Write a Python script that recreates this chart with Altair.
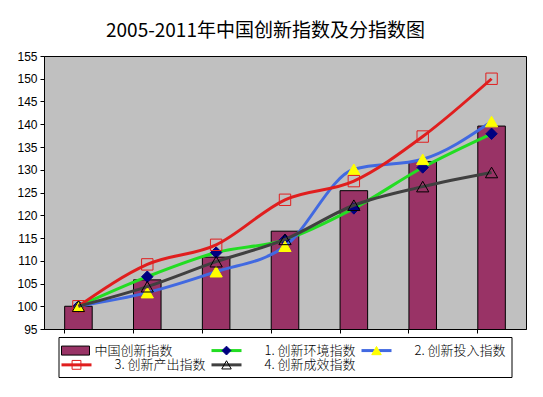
import altair as alt
import pandas as pd

# ---------------- data ----------------
title_text = "2005-2011年中国创新指数及分指数图"
years = ["2005", "2006", "2007", "2008", "2009", "2010", "2011"]
china_index = [100.0, 105.8, 110.8, 116.5, 125.4, 131.8, 139.6]
env_index = [100.0, 106.5, 111.8, 114.6, 121.5, 130.5, 137.9]
input_index = [100.0, 103.0, 107.6, 113.2, 130.1, 132.3, 140.6]
output_index = [100.0, 109.2, 113.5, 123.4, 127.5, 137.3, 150.0]
effect_index = [100.0, 104.3, 109.8, 114.7, 122.2, 126.3, 129.4]

bar_name = "中国创新指数"
line_names = ["1. 创新环境指数", "2. 创新投入指数", "3. 创新产出指数", "4. 创新成效指数"]
line_values = [env_index, input_index, output_index, effect_index]
y_ticks = [95, 100, 105, 110, 115, 120, 125, 130, 135, 140, 145, 150, 155]

# legend grid (column / row of each entry)
legend_labels = [bar_name] + line_names
legend_cols = [0, 1, 2, 0, 1]
legend_rows = [0, 0, 0, 1, 1]

# ---------------- styles ----------------
bar_color = "#993366"
line_colors = ["#22DD22", "#4169E1", "#E01E1E", "#404040"]
marker_shapes = ["diamond", "triangle-up", "square", "triangle-up"]
marker_fills = ["#000080", "#FFFF00", "transparent", "transparent"]
marker_strokes = ["#000080", "#FFFF00", "#E01E1E", "#000000"]
marker_sizes = [130, 150, 130, 150]
FONT_CJK = "Noto Sans CJK SC"

bar_df = pd.DataFrame({"year": years, "value": china_index})

x_axis = alt.Axis(labels=False, title=None, bandPosition=0, tickSize=4,
                  domainColor="black", tickColor="black")
x_enc = alt.X("year:N", sort=years,
              scale=alt.Scale(paddingInner=0.6, paddingOuter=0.3), axis=x_axis)
y_scale = alt.Scale(domain=[95, 155], nice=False, zero=False)
y_axis = alt.Axis(values=y_ticks, title=None, grid=False, tickSize=4,
                  labelFontSize=12, labelFont="Liberation Sans",
                  labelColor="black", domainColor="black", tickColor="black",
                  labelPadding=3, labelOverlap=False, labelFlush=False)
y_enc = alt.Y("value:Q", scale=y_scale, axis=y_axis)

bars = alt.Chart(bar_df).mark_bar(
    color=bar_color, stroke="black", strokeWidth=1, clip=True
).encode(x=x_enc, y=y_enc)

layers = [bars]
for i, name in enumerate(line_names):
    df = pd.DataFrame({"year": years, "value": line_values[i]})
    base = alt.Chart(df).encode(x=x_enc, y=y_enc)
    line = base.mark_line(color=line_colors[i], strokeWidth=3,
                          interpolate="monotone")
    pts = base.mark_point(shape=marker_shapes[i], size=marker_sizes[i],
                          filled=True, fill=marker_fills[i],
                          stroke=marker_strokes[i], strokeWidth=1, opacity=1)
    layers += [line, pts]

main = alt.layer(*layers).properties(
    width=482, height=273,
    view=alt.ViewBackground(fill="#C0C0C0", stroke="black", strokeWidth=1),
)

# ---------------- legend panel ----------------
SYM_LINE = 0.2      # line symbol length in column units
SYM_BAR = 28 / 150  # bar symbol length
TXT_BAR = 0.22
TXT_LINE = 0.353

leg = pd.DataFrame({
    "label": legend_labels,
    "col": legend_cols,
    "row": legend_rows,
    "kind": ["bar"] + ["line"] * 4,
})
leg["x0"] = leg["col"]
leg["x1"] = leg["col"] + SYM_LINE
leg["xb"] = leg["col"] + SYM_BAR
leg["xm"] = leg["col"] + SYM_LINE / 2
leg["tx"] = leg["col"] + pd.Series([TXT_BAR] + [TXT_LINE] * 4)

lx = alt.Scale(domain=[-0.02, 3.0])
ly = alt.Scale(domain=[-0.6, 1.5], reverse=True)

leg_layers = []
bar_leg = alt.Chart(leg.iloc[[0]]).mark_bar(
    size=9, color=bar_color, stroke="black", strokeWidth=1
).encode(
    x=alt.X("x0:Q", scale=lx, axis=None),
    x2="xb:Q",
    y=alt.Y("row:Q", scale=ly, axis=None),
)
leg_layers.append(bar_leg)
for i in range(4):
    sub = leg.iloc[[i + 1]]
    rule = alt.Chart(sub).mark_rule(color=line_colors[i], strokeWidth=3).encode(
        x=alt.X("x0:Q", scale=lx, axis=None), x2="x1:Q",
        y=alt.Y("row:Q", scale=ly, axis=None),
    )
    mk = alt.Chart(sub).mark_point(
        shape=marker_shapes[i], size=marker_sizes[i] * 0.6, filled=True,
        fill=marker_fills[i], stroke=marker_strokes[i], strokeWidth=1, opacity=1
    ).encode(
        x=alt.X("xm:Q", scale=lx, axis=None),
        y=alt.Y("row:Q", scale=ly, axis=None),
    )
    leg_layers += [rule, mk]

txt = alt.Chart(leg).mark_text(
    align="left", baseline="middle", fontSize=13, font=FONT_CJK,
    fontWeight=300, color="black"
).encode(
    x=alt.X("tx:Q", scale=lx, axis=None),
    y=alt.Y("row:Q", scale=ly, axis=None),
    text="label:N",
)
leg_layers.append(txt)

legend_panel = alt.layer(*leg_layers).properties(
    width=453, height=40,
    view=alt.ViewBackground(fill="white", stroke="black", strokeWidth=1),
)

chart = alt.vconcat(main, legend_panel, spacing=8, center=True, bounds="flush").properties(
    title=alt.TitleParams(text=title_text, fontSize=19, font=FONT_CJK,
                          fontWeight="normal", color="black", anchor="middle",
                          dx=-6, offset=9),
    padding={"left": 8, "top": 13, "right": 5, "bottom": 5},
    autosize=alt.AutoSizeParams(type="pad"),
    background="white",
)

chart.save("out.html", embed_options={"renderer": "svg", "actions": False})
